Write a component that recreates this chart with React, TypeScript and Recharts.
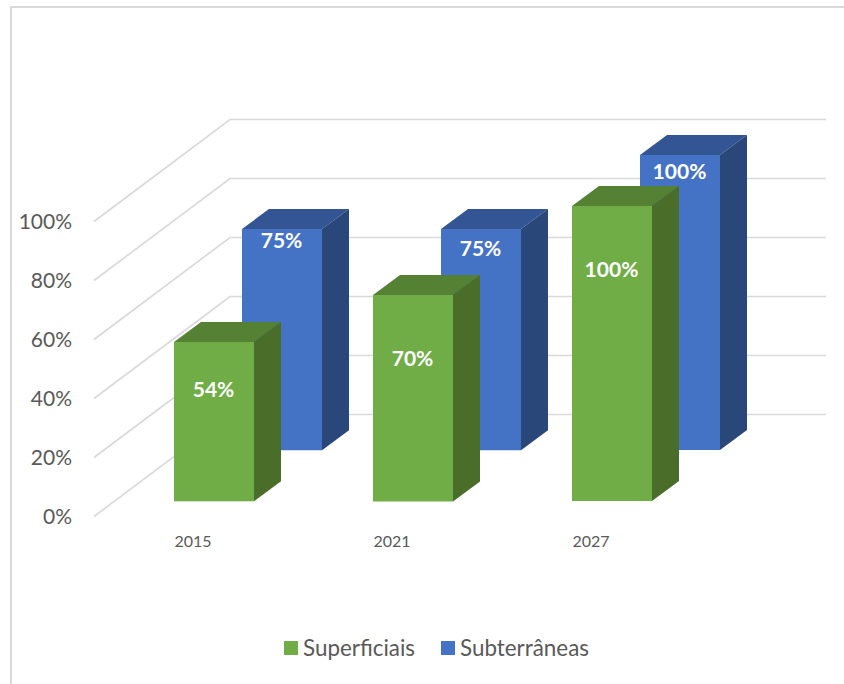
import { BarChart, Bar, XAxis, YAxis, CartesianGrid, LabelList, Legend } from "recharts";

const years = ["2015", "2021", "2027"];
const superficiais = [54, 70, 100];
const subterraneas = [75, 75, 100];
const yTicks = [0, 20, 40, 60, 80, 100];

const rows = years.map((year, i) => ({
  year,
  superficiais: superficiais[i],
  subterraneas: subterraneas[i],
}));

// fake 3D geometry, Excel style
const DEPTH_X = 27;
const DEPTH_Y = 20;
const WALL_X = 136;
const WALL_Y = 102;
const GRID_LEFT = 94;
const GRID_RIGHT = 826;

const FONT = "Lato, sans-serif";
const TEXT = "#595959";

// how far each data label sits under the top of its bar
const greenLabelDrop = [47, 63, 62];
const blueLabelDrop = [11, 19, 15];

function box3d(shiftX: number, shiftY: number, front: string, top: string, side: string) {
  return (props: any) => {
    const x = Math.round(props.x) + shiftX;
    const y = Math.round(props.y - shiftY + 0.2);
    const w = props.width;
    const h = props.height;
    return (
      <g>
        <path
          d={`M${x} ${y}L${x + DEPTH_X} ${y - DEPTH_Y}H${x + w + DEPTH_X}L${x + w} ${y}Z`}
          fill={top}
        />
        <path
          d={`M${x + w} ${y}L${x + w + DEPTH_X} ${y - DEPTH_Y}V${y + h - DEPTH_Y}L${x + w} ${y + h}Z`}
          fill={side}
        />
        <rect x={x} y={y} width={w} height={h} fill={front} />
      </g>
    );
  };
}

function barLabel(shiftX: number, shiftY: number, drops: number[]) {
  return (props: any) => (
    <text
      x={props.x + props.width / 2 + shiftX}
      y={props.y - shiftY + drops[props.index]}
      textAnchor="middle"
      dominantBaseline="central"
      fill="#ffffff"
      fontFamily={FONT}
      fontWeight={700}
      fontSize={21}
    >
      {props.value}%
    </text>
  );
}

// each horizontal grid line runs up the side wall, then along the back wall
function wallLine(props: any) {
  const y = props.y1;
  return (
    <path
      key={`wall-${y}`}
      d={`M${GRID_LEFT} ${y + 0.5}L${GRID_LEFT + WALL_X} ${y - WALL_Y + 0.5}H${GRID_RIGHT}`}
      fill="none"
      stroke="#d9d9d9"
      strokeWidth={1.6}
    />
  );
}

function YearTick(props: any) {
  return (
    <text
      x={props.x - 20}
      y={props.y + 16}
      textAnchor="middle"
      dominantBaseline="central"
      fill={TEXT}
      fontFamily={FONT}
      fontSize={16}
    >
      {props.payload.value}
    </text>
  );
}

function LegendRow() {
  const items = [
    { name: "Superficiais", color: "#70ad47", width: 157 },
    { name: "Subterrâneas", color: "#4472c4", width: 150 },
  ];
  return (
    <div style={{ display: "flex", fontFamily: FONT, fontSize: 22.4, color: TEXT, lineHeight: "24px" }}>
      {items.map((item) => (
        <div key={item.name} style={{ display: "flex", alignItems: "center", width: item.width }}>
          <span style={{ width: 14, height: 14, background: item.color, marginRight: 5 }} />
          {item.name}
        </div>
      ))}
    </div>
  );
}

export default function App() {
  return (
    <div style={{ position: "absolute", left: 0, top: 0, width: 844, height: 684, background: "#fff", overflow: "hidden" }}>
      <div
        style={{
          position: "absolute",
          left: 10,
          top: 6,
          width: 834,
          height: 678,
          borderLeft: "2px solid #d9d9d9",
          borderTop: "2px solid #d9d9d9",
          boxSizing: "border-box",
        }}
      />
      <BarChart
        width={844}
        height={684}
        data={rows}
        barSize={80}
        barGap={-80}
        margin={{ top: 221, right: 133.5, bottom: 0, left: 0 }}
        style={{ position: "absolute", left: 0, top: 0 }}
      >
        <CartesianGrid vertical={false} horizontal={wallLine} />
        <XAxis
          dataKey="year"
          height={168}
          axisLine={false}
          tickLine={false}
          tick={<YearTick />}
        />
        <YAxis
          width={113.5}
          domain={[0, 100]}
          ticks={yTicks}
          axisLine={false}
          tickLine={false}
          tickSize={0}
          tickMargin={41.5}
          tickFormatter={(v: number) => `${v}%`}
          tick={{ fill: TEXT, fontFamily: FONT, fontSize: 21, dy: 1 }}
        />
        <Legend
          verticalAlign="middle"
          content={<LegendRow />}
          wrapperStyle={{ position: "absolute", left: 284, top: 636, width: 320, height: 24 }}
        />
        <Bar
          dataKey="subterraneas"
          name="Subterrâneas"
          isAnimationActive={false}
          shape={box3d(68, 66, "#4472c4", "#335593", "#294778")}
        >
          <LabelList dataKey="subterraneas" content={barLabel(68, 66, blueLabelDrop)} />
        </Bar>
        <Bar
          dataKey="superficiais"
          name="Superficiais"
          isAnimationActive={false}
          shape={box3d(0, 15, "#70ad47", "#558135", "#4a6d2a")}
        >
          <LabelList dataKey="superficiais" content={barLabel(0, 15, greenLabelDrop)} />
        </Bar>
      </BarChart>
    </div>
  );
}
